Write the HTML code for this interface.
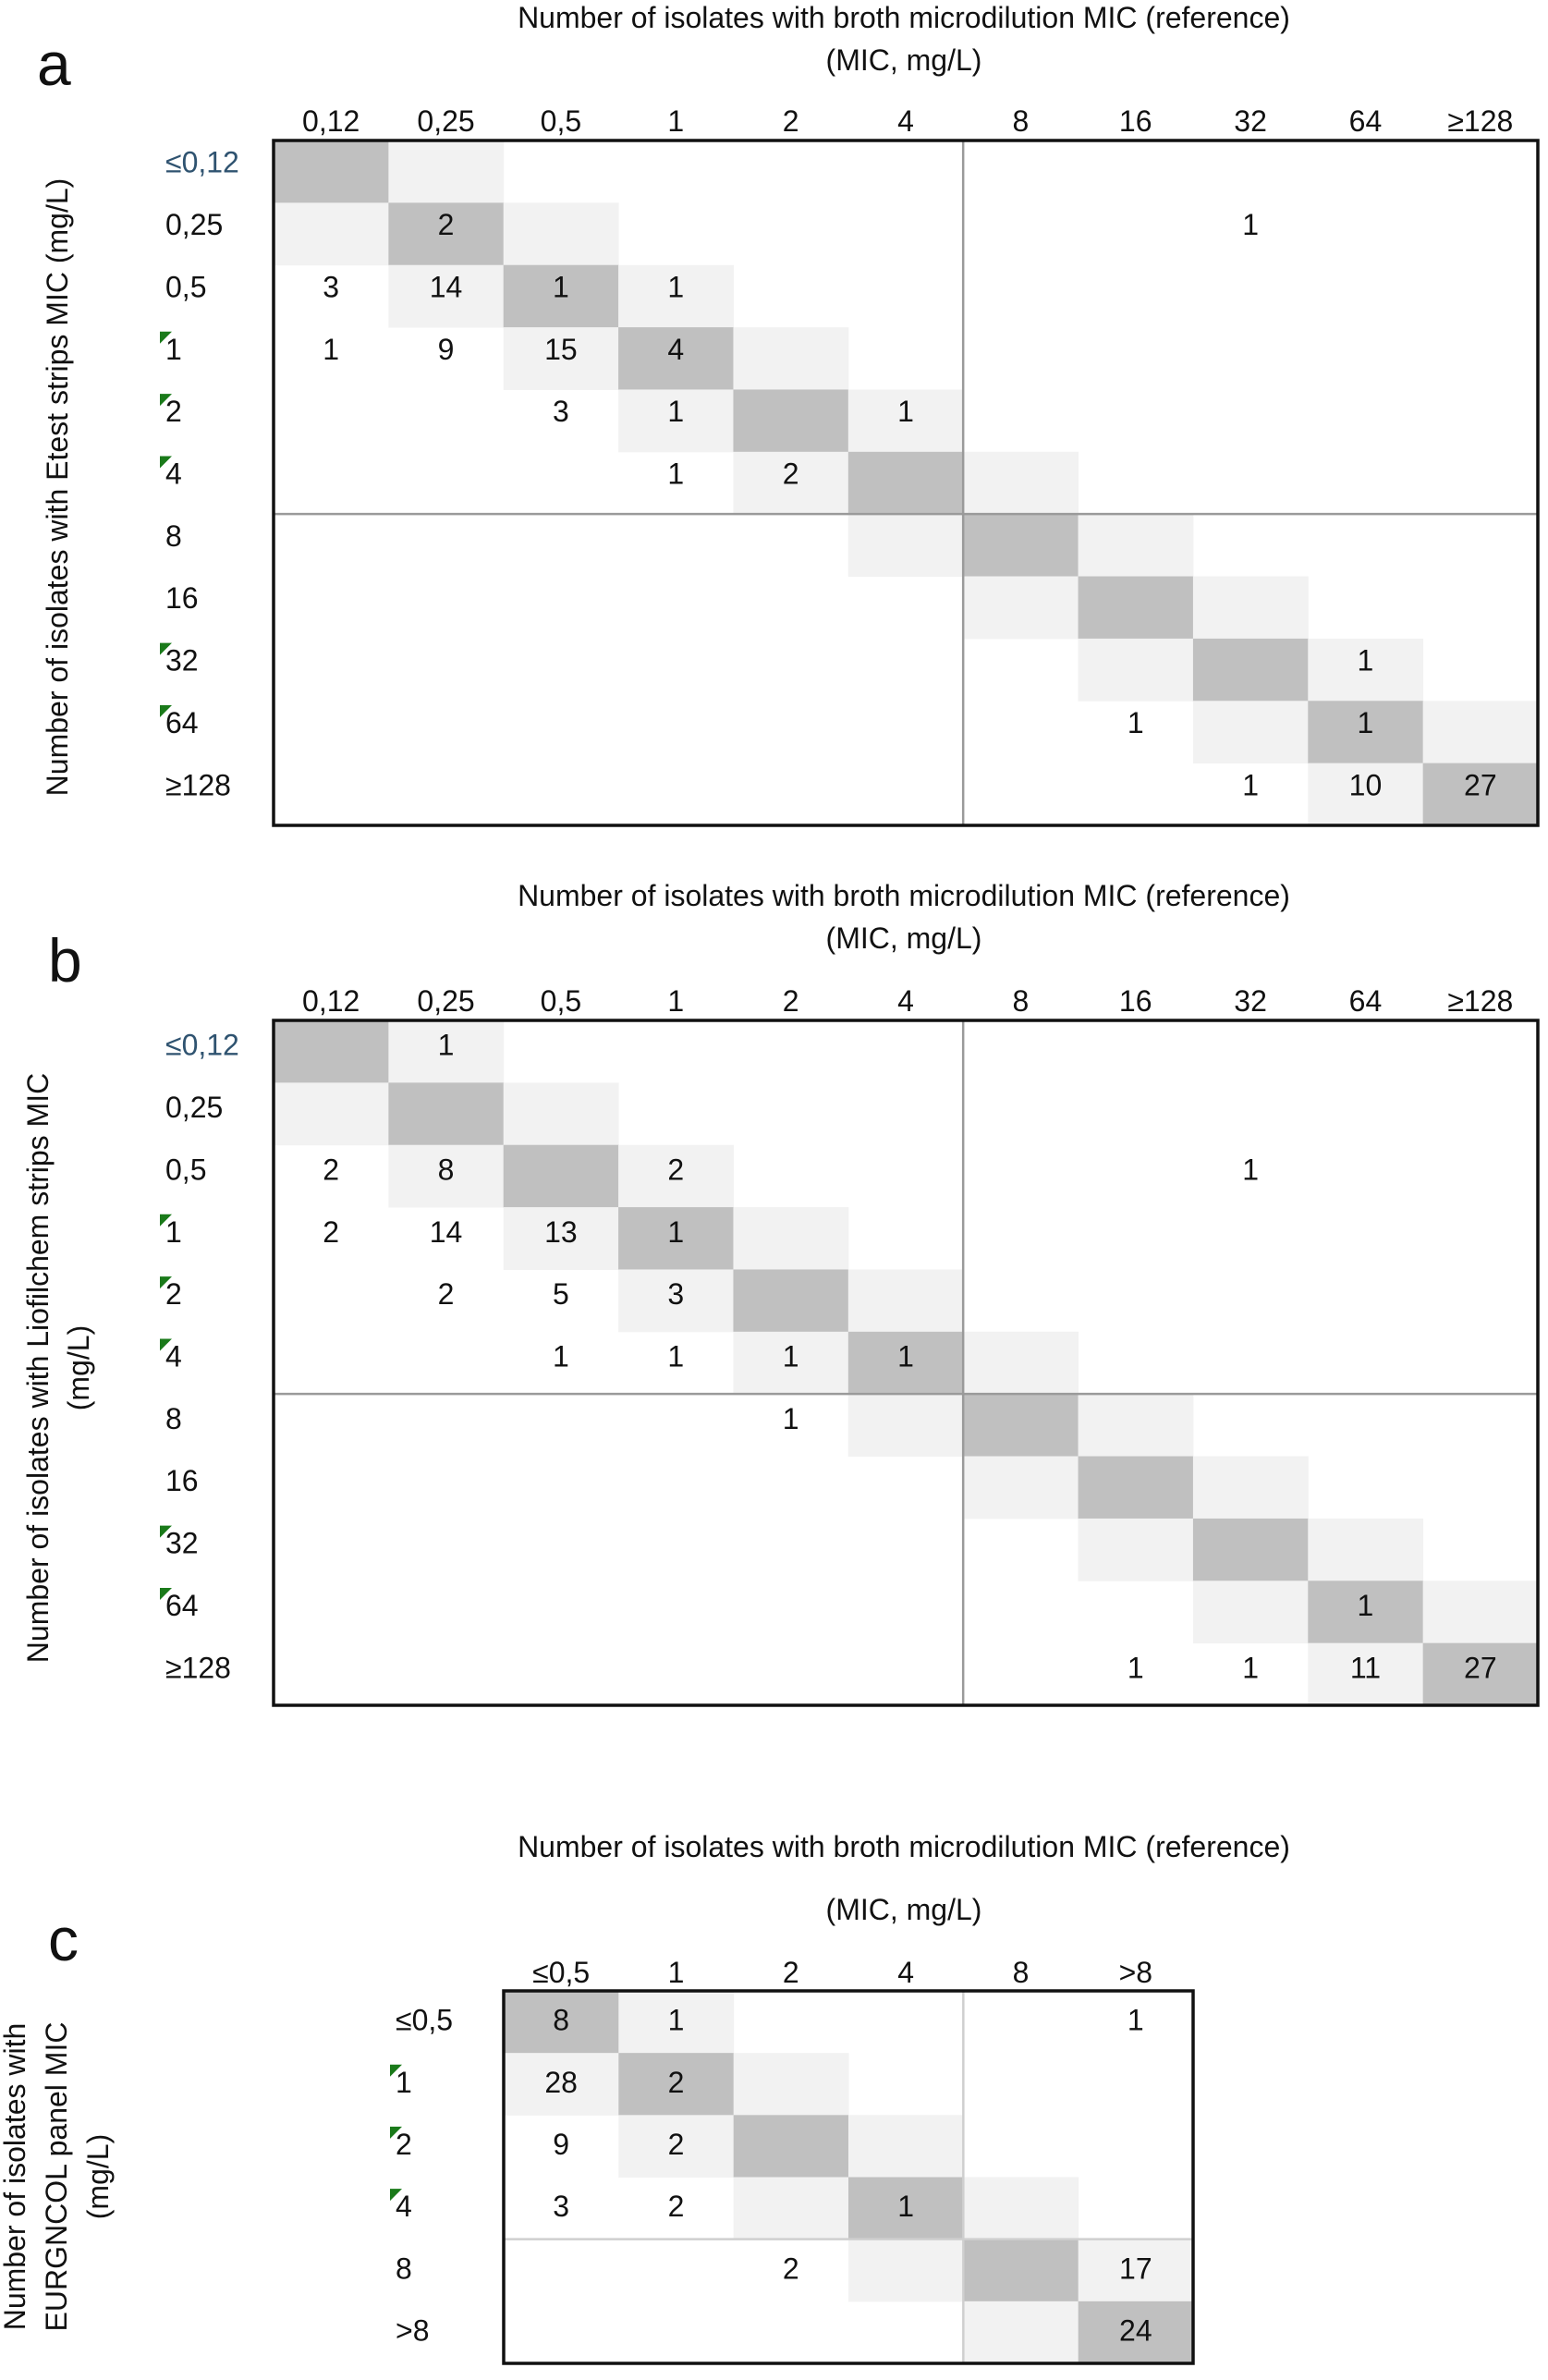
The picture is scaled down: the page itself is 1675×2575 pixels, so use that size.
<!DOCTYPE html>
<html><head><meta charset="utf-8">
<style>
html,body{margin:0;padding:0;background:#fff;}
svg{display:block;font-family:"Liberation Sans",Arial,sans-serif;}
</style></head>
<body>
<svg id="fig" width="1675" height="2575" viewBox="0 0 1675 2575" xmlns="http://www.w3.org/2000/svg"></svg>
<script>
// ---- data ----
const colsAB = ["0,12","0,25","0,5","1","2","4","8","16","32","64","≥128"];
const rowsAB = ["≤0,12","0,25","0,5","1","2","4","8","16","32","64","≥128"];
const flagsAB = [0,0,0,1,1,1,0,0,1,1,0];
const countsA = [
 [0,0,0,0,0,0,0,0,0,0,0],
 [0,2,0,0,0,0,0,0,1,0,0],
 [3,14,1,1,0,0,0,0,0,0,0],
 [1,9,15,4,0,0,0,0,0,0,0],
 [0,0,3,1,0,1,0,0,0,0,0],
 [0,0,0,1,2,0,0,0,0,0,0],
 [0,0,0,0,0,0,0,0,0,0,0],
 [0,0,0,0,0,0,0,0,0,0,0],
 [0,0,0,0,0,0,0,0,0,1,0],
 [0,0,0,0,0,0,0,1,0,1,0],
 [0,0,0,0,0,0,0,0,1,10,27]
];
const countsB = [
 [0,1,0,0,0,0,0,0,0,0,0],
 [0,0,0,0,0,0,0,0,0,0,0],
 [2,8,0,2,0,0,0,0,1,0,0],
 [2,14,13,1,0,0,0,0,0,0,0],
 [0,2,5,3,0,0,0,0,0,0,0],
 [0,0,1,1,1,1,0,0,0,0,0],
 [0,0,0,0,1,0,0,0,0,0,0],
 [0,0,0,0,0,0,0,0,0,0,0],
 [0,0,0,0,0,0,0,0,0,0,0],
 [0,0,0,0,0,0,0,0,0,1,0],
 [0,0,0,0,0,0,0,1,1,11,27]
];
const colsC = ["≤0,5","1","2","4","8",">8"];
const rowsC = ["≤0,5","1","2","4","8",">8"];
const flagsC = [0,1,1,1,0,0];
const countsC = [
 [8,1,0,0,0,1],
 [28,2,0,0,0,0],
 [9,2,0,0,0,0],
 [3,2,0,1,0,0],
 [0,0,2,0,0,17],
 [0,0,0,0,0,24]
];

const NS="http://www.w3.org/2000/svg";
const svg=document.getElementById('fig');
const FS=32;
function mk(tag,attrs,parent){const e=document.createElementNS(NS,tag);for(const k in attrs)e.setAttribute(k,attrs[k]);(parent||svg).appendChild(e);return e;}
function txt(s,x,y,size,anchor,parent,fill){const t=mk('text',{x:x,y:y,'font-size':size,'text-anchor':anchor||'middle','dominant-baseline':'central',fill:fill||'#111'},parent);t.textContent=s;return t;}

function panel(cfg){
  const g=mk('g',{});
  
  
  const nC=cfg.cols.length,nR=cfg.rows.length;
  const cw=(cfg.x1-cfg.x0)/nC, rh=(cfg.y1-cfg.y0)/nR;
  const xs=i=>cfg.x0+i*cw, ys=j=>cfg.y0+j*rh;
  for(let r=0;r<nR;r++)for(let c=0;c<nC;c++){
    const d=Math.abs(r-c);
    if(d<=1){
      const rect=mk('rect',{x:xs(c),y:ys(r),width:cw+0.5,height:rh+0.5,fill:d===0?'#c0c0c0':'#f2f2f2'},g);
      
      
    }
  }
  const vl=mk('line',{x1:xs(cfg.div),y1:cfg.y0,x2:xs(cfg.div),y2:cfg.y1,stroke:cfg.divColor,'stroke-width':2.5},g);
  
  
  const hl=mk('line',{x1:cfg.x0,y1:ys(cfg.div),x2:cfg.x1,y2:ys(cfg.div),stroke:cfg.divColor,'stroke-width':2.5},g);
  
  
  for(let r=0;r<nR;r++)for(let c=0;c<nC;c++){
    const v=cfg.counts[r][c];
    if(v){
      const t=txt(String(v),xs(c)+cw/2,ys(r)+rh/2+cfg.textDy,FS,'middle',g);
      
      
    }
  }
  const fr=mk('rect',{x:cfg.x0,y:cfg.y0,width:cfg.x1-cfg.x0,height:cfg.y1-cfg.y0,fill:'none',stroke:'#111','stroke-width':3.5},g);
  
  
  cfg.cols.forEach((s,i)=>{
    const t=txt(s,xs(i)+cw/2,cfg.tickY,FS,'middle',g);
    
    
  });
  cfg.rows.forEach((s,i)=>{
    const cy=ys(i)+rh/2+cfg.textDy;
    const t=txt(s,cfg.rowX,cy,FS,'start',g,(i===0&&cfg.blueFirst)?'#2f5370':'#111');
    
    
    if(cfg.flags[i]){
      const p=mk('polygon',{points:`${cfg.rowX-6},${cy-19} ${cfg.rowX+7},${cy-19} ${cfg.rowX-6},${cy-6}`,fill:'#1a7a1a'},g);
      
      
    }
  });
  cfg.titleLines.forEach((s,i)=>{
    const t=txt(s,978,cfg.titleY[i],FS,'middle',g);
    
    
  });
  const yt=mk('g',{transform:`translate(0,${cfg.yTitleCY}) rotate(-90)`},g);
  
  
  cfg.yTitle.forEach((s,i)=>{ txt(s,0,cfg.yTitleX[i],FS,'middle',yt); });
  const L=mk('text',{x:cfg.letterX,y:cfg.letterY,'font-size':66,fill:'#111'},g);
  L.textContent=cfg.letter;
  
  
}

panel({name:'panel-a-etest',cols:colsAB,rows:rowsAB,flags:flagsAB,counts:countsA,
  x0:296,x1:1664,y0:152,y1:893,div:6,divColor:'#9a9a9a',tickY:131,rowX:179,blueFirst:true,textDy:-10,
  titleLines:["Number of isolates with broth microdilution MIC (reference)","(MIC, mg/L)"],titleY:[19,65],
  yTitle:["Number of isolates with Etest strips MIC (mg/L)"],yTitleX:[62],yTitleCY:527,
  letter:'a',letterX:40,letterY:92});
panel({name:'panel-b-liofilchem',cols:colsAB,rows:rowsAB,flags:flagsAB,counts:countsB,
  x0:296,x1:1664,y0:1104,y1:1845,div:6,divColor:'#9a9a9a',tickY:1083,rowX:179,blueFirst:true,textDy:-7,
  titleLines:["Number of isolates with broth microdilution MIC (reference)","(MIC, mg/L)"],titleY:[969,1015],
  yTitle:["Number of isolates with Liofilchem strips MIC","(mg/L)"],yTitleX:[41,85],yTitleCY:1480,
  letter:'b',letterX:52,letterY:1062});
panel({name:'panel-c-eurgncol',cols:colsC,rows:rowsC,flags:flagsC,counts:countsC,
  x0:545,x1:1291,y0:2154,y1:2557,div:4,divColor:'#cfcfcf',tickY:2134,rowX:428,blueFirst:false,textDy:-2,
  titleLines:["Number of isolates with broth microdilution MIC (reference)","(MIC, mg/L)"],titleY:[1998,2066],
  yTitle:["Number of isolates with","EURGNCOL panel MIC","(mg/L)"],yTitleX:[16,61,106],yTitleCY:2355,
  letter:'c',letterX:52,letterY:2121});
</script>
</body></html>
